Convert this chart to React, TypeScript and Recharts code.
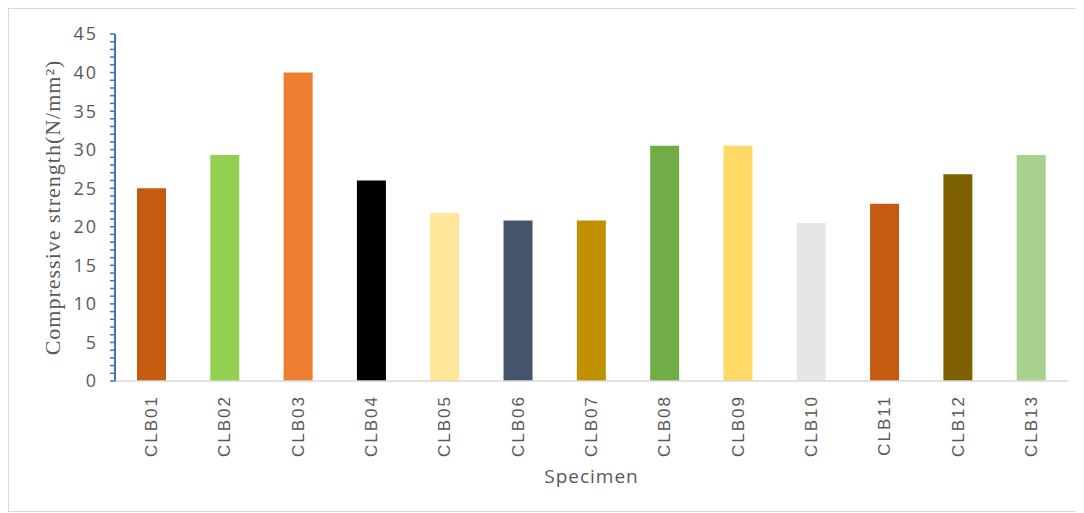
import React from 'react';
import { BarChart, Bar, XAxis, YAxis, Cell, Label } from 'recharts';

const specimens = ['CLB01', 'CLB02', 'CLB03', 'CLB04', 'CLB05', 'CLB06', 'CLB07', 'CLB08', 'CLB09', 'CLB10', 'CLB11', 'CLB12', 'CLB13'];
const strengths = [25.0, 29.3, 40.0, 26.0, 21.8, 20.8, 20.8, 30.5, 30.5, 20.5, 23.0, 26.8, 29.3];
const barColors = ['#C55A11', '#92D050', '#ED7D31', '#000000', '#FFE699', '#44546A', '#BF9000', '#70AD47', '#FFD966', '#E7E6E6', '#C55A11', '#7F6000', '#A9D18E'];
const yTicks = Array.from({ length: 46 }, (_, i) => i);

const data = specimens.map((s, i) => ({ name: s, value: strengths[i] }));

const XTick = (props: any) => {
  const { x, y, payload } = props;
  return (
    <text
      x={x}
      y={y}
      transform={`rotate(-90, ${x}, ${y})`}
      textAnchor="end"
      dominantBaseline="central"
      fill="#595959"
      fontFamily="'Liberation Sans', Arial, sans-serif"
      fontSize={17}
      letterSpacing={2}
    >
      {payload.value}
    </text>
  );
};

const YLabel = (props: any) => {
  const { viewBox } = props;
  const cy = viewBox.y + viewBox.height / 2;
  const cx = 43;
  return (
    <text
      x={cx}
      y={cy}
      transform={`rotate(-90, ${cx}, ${cy})`}
      textAnchor="middle"
      dominantBaseline="central"
      fill="#595959"
      fontFamily="'Liberation Serif', 'Times New Roman', serif"
      fontSize={22}
      letterSpacing={1}
    >
      Compressive strength(N/mm²)
    </text>
  );
};

export default function App() {
  return (
    <div style={{ width: 1068, height: 502, border: '1px solid #d9d9d9', background: '#fff' }}>
      <BarChart width={1068} height={502} data={data} margin={{ top: 25, right: 9, bottom: 0, left: 0 }}>
        <XAxis
          dataKey="name"
          height={130}
          tickLine={false}
          tickSize={0}
          tickMargin={14}
          axisLine={{ stroke: '#d9d9d9', strokeWidth: 1.5 }}
          tick={<XTick />}
          interval={0}
        >
          <Label
            value="Specimen"
            position="insideBottom"
            offset={28}
            fill="#595959"
            style={{ fontFamily: "'Open Sans', sans-serif", fontSize: 19, letterSpacing: 1 }}
          />
        </XAxis>
        <YAxis
          width={106}
          domain={[0, 45]}
          ticks={yTicks}
          interval={0}
          tickSize={5}
          tickMargin={12}
          tickFormatter={(v: number) => (v % 5 === 0 ? String(v) : '')}
          axisLine={{ stroke: '#4472C4', strokeWidth: 2 }}
          tickLine={{ stroke: '#4472C4', strokeWidth: 1.5 }}
          tick={{ fill: '#595959', fontSize: 18, fontFamily: "'Open Sans', sans-serif", letterSpacing: 2 }}
        >
          <Label content={<YLabel />} />
        </YAxis>
        <Bar dataKey="value" barSize={29} isAnimationActive={false}>
          {data.map((d, i) => (
            <Cell key={d.name} fill={barColors[i]} />
          ))}
        </Bar>
      </BarChart>
    </div>
  );
}
